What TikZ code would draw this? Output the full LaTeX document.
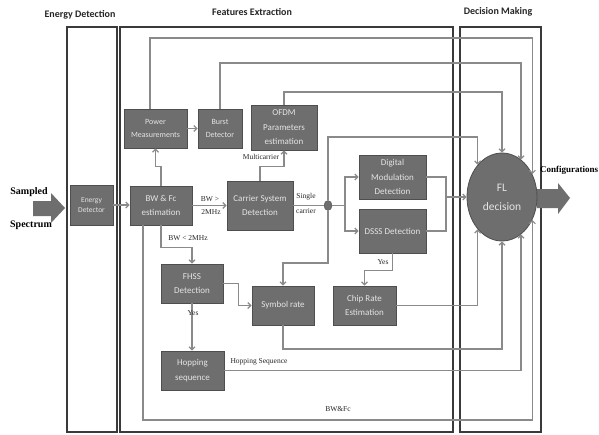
\documentclass[tikz,border=0pt]{standalone}
\usepackage{fontspec}
\setmainfont{Carlito}
\newfontfamily\serifl{Liberation Serif}
\usetikzlibrary{arrows.meta,shapes.geometric,calc}
\definecolor{boxfill}{HTML}{6E6E6E}
\definecolor{boxline}{HTML}{4E4E4E}
\definecolor{boxtext}{HTML}{E4E4E4}
\definecolor{conncol}{HTML}{8A8A8A}
\definecolor{framecol}{HTML}{3A3A3A}
\begin{document}
\begin{tikzpicture}[x=1pt,y=-1pt,
  box/.style={draw=boxline, fill=boxfill, line width=0.8pt, text=boxtext, align=center, inner sep=1pt, font=\fontsize{9}{14.5}\selectfont},
  wh/.style 2 args={minimum width=#1pt, minimum height=#2pt},
  frame/.style={draw=framecol, line width=1.1pt, inner sep=0pt},
  title/.style={font=\bfseries\fontsize{10}{12}\selectfont, text=black!85, inner sep=0pt},
  conn/.style={draw=conncol, line width=1.2pt},
  arr/.style={conn, -{Straight Barb[length=3pt,width=6pt]}},
  elab/.style={font=\serifl\fontsize{7.5}{8}\selectfont, text=black!85, inner sep=0pt},
  biglab/.style={font=\serifl\bfseries\fontsize{10}{12}\selectfont, inner sep=0pt},
  dot/.style={ellipse, draw=boxline, fill=boxfill, minimum width=8pt, minimum height=10pt, inner sep=0pt},
  fl/.style={ellipse, draw=boxline, fill=boxfill, line width=0.8pt, text=boxtext, align=center, minimum width=70pt, minimum height=88pt, inner sep=0pt, font=\fontsize{11.5}{19}\selectfont}
]
\useasboundingbox (0,0) rectangle (599,434);
\fill[white] (0,0) rectangle (599,434);

% frames
\node[frame, minimum width=50pt, minimum height=405pt] (fED) at (92,229.5) {};
\node[frame, minimum width=333pt, minimum height=405pt] (fFE) at (286.5,229.5) {};
\node[frame, minimum width=81pt, minimum height=405pt] (fDM) at (500.5,229.5) {};
\node[title] (tED) at (80,15) {Energy Detection};
\node[title] (tFE) at (252,12) {Features Extraction};
\node[title] (tDM) at (498,12) {Decision Making};

% big arrows
\fill[boxfill] (33,201) -- (51,201) -- (51,193) -- (65,208) -- (51,223) -- (51,216) -- (33,216) -- cycle;
\fill[boxfill] (537,189) -- (558,189) -- (558,183) -- (570,198) -- (558,214) -- (558,208) -- (537,208) -- cycle;
\node[biglab] (tSa) at (29,192) {Sampled};
\node[biglab] (tSp) at (31,225) {Spectrum};
\node[biglab, font=\serifl\bfseries\fontsize{9}{11}\selectfont] (tCo) at (569,170) {Configurations};

% boxes
\node[box, wh={43}{40}, font=\fontsize{7.5}{10}\selectfont] (ED) at (91.5,205) {Energy\\Detector};
\node[box, wh={63}{39}, font=\fontsize{8}{13}\selectfont] (PM) at (155.5,128.5) {Power\\Measurements};
\node[box, wh={44}{39}, font=\fontsize{8}{13}\selectfont] (BD) at (220,128.5) {Burst\\Detector};
\node[box, wh={66}{45}] (OF) at (284,127.5) {OFDM\\Parameters\\estimation};
\node[box, wh={62}{39}] (BW) at (161,205.5) {BW \& Fc\\estimation};
\node[box, wh={66}{49}] (CS) at (260,205.5) {Carrier System\\Detection};
\node[dot] (J) at (328,205.5) {};
\node[box, wh={67}{44}] (DM) at (392.5,177) {Digital\\Modulation\\Detection};
\node[box, wh={67}{44}] (DS) at (392.5,231) {DSSS Detection};
\node[box, wh={62}{39}] (FH) at (192,283.5) {FHSS\\Detection};
\node[box, wh={62}{39}] (SR) at (283,305.5) {Symbol rate};
\node[box, wh={63}{39}] (CR) at (364.5,305.5) {Chip Rate\\Estimation};
\node[box, wh={63}{39}] (HS) at (192.5,370.5) {Hopping\\sequence};
\node[fl] (FL) at (502,197) {FL\\decision};

% level coordinates
\coordinate (L1) at (0,38);
\coordinate (L2) at (0,63);
\coordinate (L3) at (0,92);
\coordinate (L4) at (0,137);
\coordinate (L5) at (0,263);
\coordinate (B2) at (0,349);
\coordinate (B4) at (0,420);
\coordinate (pmT) at ([xshift=-5.5pt]PM.north);
\coordinate (bwB) at ([xshift=-18pt]BW.south);
\coordinate (Jb) at (345,205.5);
\coordinate (Mg) at (446,197);

% connectors
\draw[arr] (ED.east) -- (ED.east -| BW.west);
\draw[arr] (BW.north) -- ++(0,-19) -| (PM.south);
\draw[arr] (PM.east) -- (BD.west);
\draw[arr] (pmT) -- (pmT |- L1) -| (FL.37);
\draw[arr] (BD.north) -- (BD.north |- L2) -| (FL.63);
\draw[arr] (OF.north) -- (OF.north |- L3) -| (FL.90);
\draw[arr] (BW.east) -- (CS.west);
\draw[arr] (CS.north) -- ++(0,-14) -| (OF.south);
\draw[conn] (CS.east) -- (J.west);
\draw[conn] (J.east) -- (Jb);
\draw[arr] (Jb) |- (DM.west);
\draw[arr] (Jb) |- (DS.west);
\draw[arr] (J.north) -- (J.north |- L4) -| (FL.127);
\draw[arr] (J.south) -- (J.south |- L5) -| (SR.north);
\draw[conn] (DM.east) -| (Mg);
\draw[conn] (DS.east) -| (Mg);
\draw[arr] (Mg) -- (FL.west);
\draw[arr] (DS.south) -- ++(0,17) -| (CR.north);
\draw[arr] (CR.east) -| (FL.-127);
\draw[arr] (BW.south) -- ++(0,22) -| (FH.north);
\draw[arr] (bwB) -- (bwB |- B4) -| (FL.-37);
\draw[arr] (FH.east) -- ++(15,0) |- (SR.west);
\draw[arr] (FH.south) -- (FH.south |- HS.north);
\draw[arr] (SR.south) -- (SR.south |- B2) -| (FL.-90);
\draw[arr] (HS.east) -| (FL.-63);

% labels
\node[elab] (lbw1) at (210,199) {BW >};
\node[elab] (lbw2) at (211,212) {2MHz};
\node[elab] (lmc) at (261,157) {Multicarrier};
\node[elab] (lsc1) at (306,197) {Single};
\node[elab] (lsc2) at (306,211) {carrier};
\node[elab] (lbwl) at (188,238) {BW < 2MHz};
\node[elab] (lyes1) at (383,262) {Yes};
\node[elab] (lyes2) at (193,313) {Yes};
\node[elab] (lhs) at (259,362) {Hopping Sequence};
\node[elab] (lbf) at (338,409) {BW\&Fc};
\end{tikzpicture}
\end{document}
